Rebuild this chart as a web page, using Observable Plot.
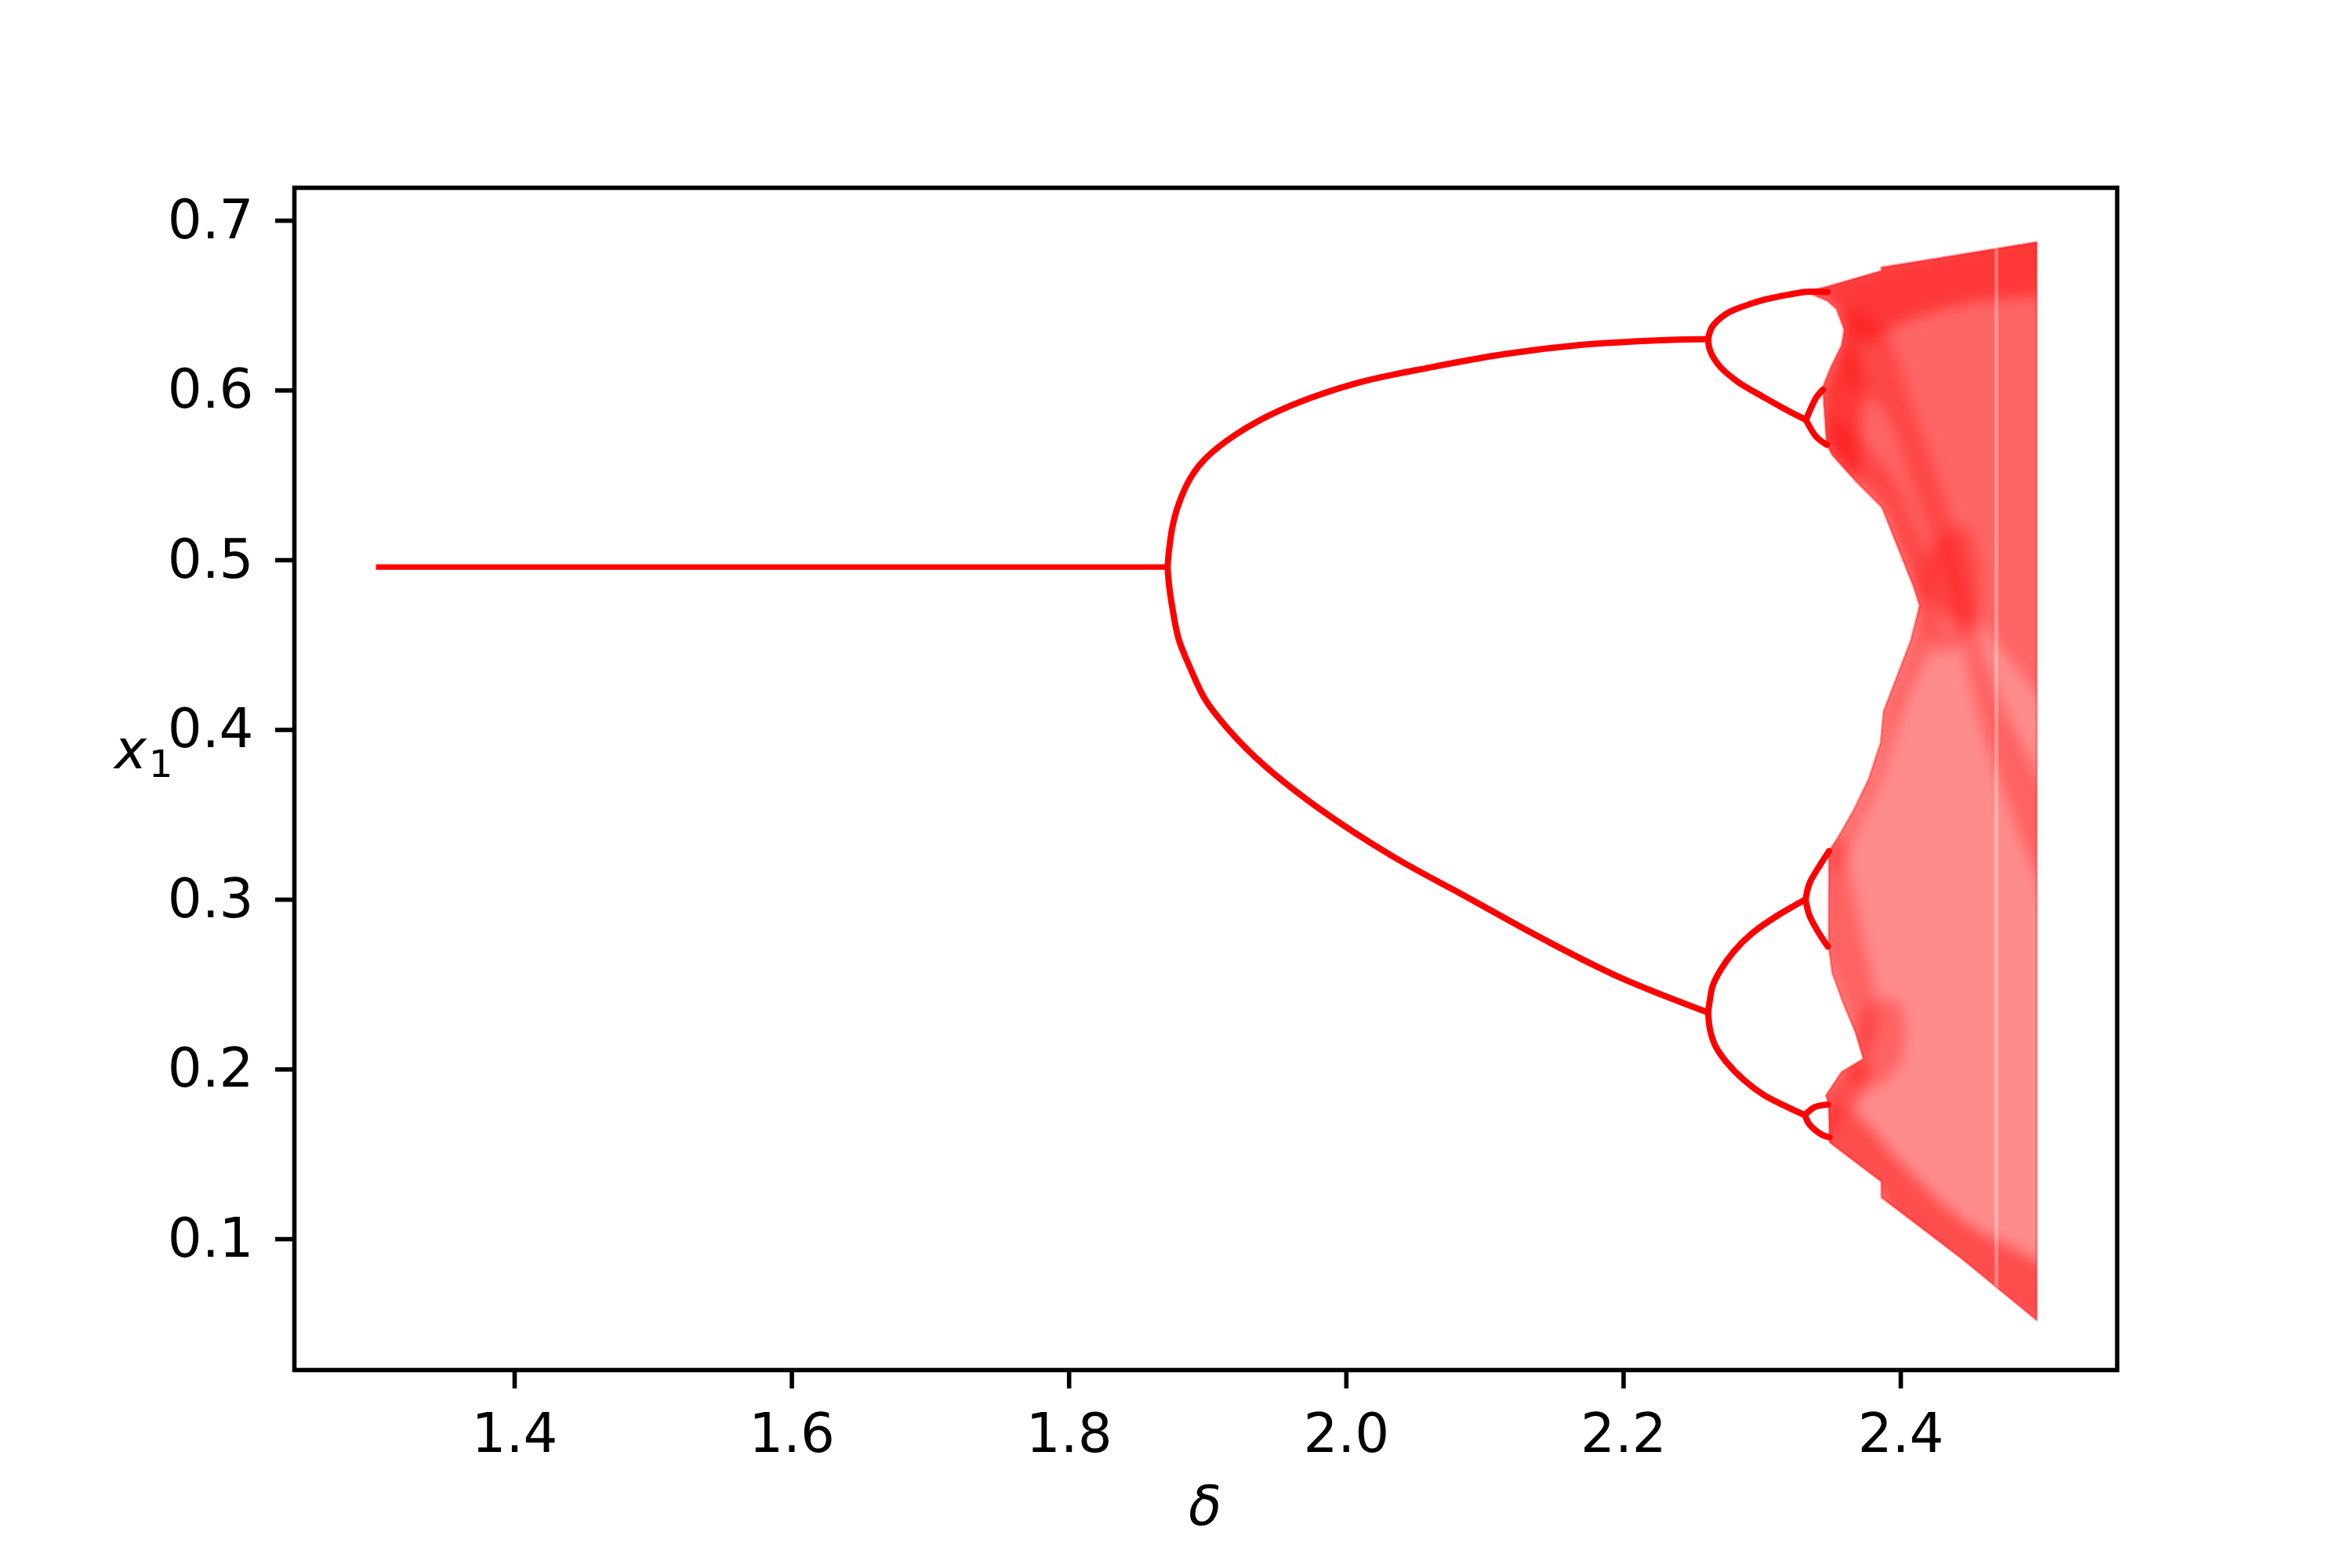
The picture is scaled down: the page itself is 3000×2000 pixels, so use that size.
<!DOCTYPE html>
<html>
<head>
<meta charset="utf-8">
<script src="https://cdn.jsdelivr.net/npm/d3@7"></script>
<script src="https://cdn.jsdelivr.net/npm/@observablehq/plot@0.6"></script>
<style>
  html, body { margin: 0; padding: 0; background: #fff; }
  #chart { width: 3000px; height: 2000px; }
</style>
</head>
<body>
<div id="chart"></div>
<script>
// ---------- tick labels ----------
const xTicks = [1.4, 1.6, 1.8, 2.0, 2.2, 2.4];
const yTicks = [0.1, 0.2, 0.3, 0.4, 0.5, 0.6, 0.7];

// ---------- stable branches ----------
const p1X = [1.300, 1.871];
const p1Y = [0.496, 0.496];

const p2UpperX = [1.871, 1.8722, 1.8746, 1.879, 1.8876, 1.898, 1.920, 1.9524, 2.006, 2.0606, 2.1147, 2.1687, 2.223, 2.261];
const p2UpperY = [0.496, 0.5067, 0.520, 0.533, 0.5485, 0.5596, 0.5739, 0.5884, 0.604, 0.6136, 0.6215, 0.6268, 0.6295, 0.6303];

const p2LowerX = [1.871, 1.8722, 1.8746, 1.879, 1.8876, 1.898, 1.9145, 1.9416, 1.9795, 2.0335, 2.0877, 2.1418, 2.1959, 2.261];
const p2LowerY = [0.496, 0.4845, 0.4714, 0.4536, 0.436, 0.4182, 0.4007, 0.3785, 0.3542, 0.3255, 0.3012, 0.2769, 0.2547, 0.2335];

const p4UUX = [2.261, 2.2638, 2.2738, 2.2866, 2.3018, 2.3203, 2.3316, 2.347];
const p4UUY = [0.6303, 0.6373, 0.645, 0.6496, 0.6535, 0.6566, 0.6581, 0.658];
const p4ULX = [2.261, 2.2624, 2.2694, 2.2826, 2.3016, 2.3203, 2.3316];
const p4ULY = [0.6303, 0.6235, 0.6142, 0.605, 0.5958, 0.5873, 0.5827];
const p4LUX = [2.261, 2.2624, 2.2643, 2.2700, 2.2794, 2.2926, 2.3115, 2.3313];
const p4LUY = [0.2335, 0.2417, 0.2493, 0.2586, 0.2694, 0.2801, 0.2909, 0.3001];
const p4LLX = [2.261, 2.2624, 2.2662, 2.2738, 2.2866, 2.3016, 2.3203, 2.3308];
const p4LLY = [0.2335, 0.2232, 0.2139, 0.2047, 0.1939, 0.1847, 0.1770, 0.1731];

const p8a1X = [2.3316, 2.339, 2.3437]; const p8a1Y = [0.5827, 0.5958, 0.6004];
const p8a2X = [2.3316, 2.339, 2.3466]; const p8a2Y = [0.5827, 0.5727, 0.568];
const p8b1X = [2.3313, 2.334, 2.3416, 2.3482]; const p8b1Y = [0.3001, 0.3094, 0.3202, 0.3286];
const p8b2X = [2.3313, 2.334, 2.3399, 2.3473]; const p8b2Y = [0.3001, 0.2909, 0.2817, 0.2724];
const p8c1X = [2.3308, 2.3378, 2.3473]; const p8c1Y = [0.1731, 0.1778, 0.1793];
const p8c2X = [2.3308, 2.334, 2.343, 2.3485]; const p8c2Y = [0.1731, 0.1677, 0.1616, 0.1600];

// ---------- chaotic region outline and density bands ----------
const chaosX = [2.3316, 2.347, 2.386, 2.386, 2.423, 2.498, 2.498, 2.443, 2.386, 2.386, 2.3487, 2.3485, 2.348, 2.346, 2.3573, 2.373, 2.3674, 2.358, 2.3505, 2.348, 2.3482, 2.355, 2.3659, 2.3768, 2.3855, 2.3876, 2.3963, 2.4072, 2.4136, 2.409, 2.4015, 2.3864, 2.3675, 2.3506, 2.3466, 2.3437, 2.3498, 2.3573, 2.3592, 2.3535, 2.347];
const chaosY = [0.6581, 0.6612, 0.6704, 0.6725, 0.6774, 0.6874, 0.0523, 0.0892, 0.1246, 0.1339, 0.157, 0.160, 0.1793, 0.1847, 0.1985, 0.2062, 0.2216, 0.2401, 0.2571, 0.2724, 0.3286, 0.3371, 0.3526, 0.371, 0.3925, 0.411, 0.4295, 0.4526, 0.4733, 0.4849, 0.5003, 0.5311, 0.5465, 0.5619, 0.568, 0.602, 0.6142, 0.6266, 0.6358, 0.6481, 0.6528];

const upperX = [2.3316, 2.347, 2.386, 2.386, 2.423, 2.52, 2.52, 2.46, 2.4136, 2.409, 2.4015, 2.3864, 2.3675, 2.3506, 2.3466, 2.3437, 2.3498, 2.3573, 2.3592, 2.3535, 2.347];
const upperY = [0.6581, 0.6612, 0.6704, 0.6725, 0.6774, 0.70, 0.40, 0.46, 0.4733, 0.4849, 0.5003, 0.5311, 0.5465, 0.5619, 0.568, 0.602, 0.6142, 0.6266, 0.6358, 0.6481, 0.6528];

const topBandX = [2.32, 2.347, 2.386, 2.386, 2.423, 2.52, 2.52, 2.45, 2.40, 2.375, 2.3592, 2.3535, 2.347];
const topBandY = [0.665, 0.668, 0.678, 0.68, 0.685, 0.70, 0.662, 0.652, 0.640, 0.628, 0.6358, 0.6481, 0.6528];

const diagX = [2.362, 2.386, 2.41, 2.435, 2.465, 2.52, 2.52, 2.465, 2.435, 2.41, 2.386, 2.362];
const diagY = [0.647, 0.637, 0.587, 0.527, 0.432, 0.33, 0.28, 0.385, 0.48, 0.54, 0.59, 0.603];

const waistX = [2.4136, 2.425, 2.447, 2.455, 2.43];
const waistY = [0.4733, 0.51, 0.52, 0.465, 0.445];

const upperEdgeX = [2.3466, 2.3506, 2.3675, 2.3864, 2.4015, 2.409, 2.4136, 2.425, 2.41, 2.395, 2.378, 2.36, 2.35];
const upperEdgeY = [0.568, 0.5619, 0.5465, 0.5311, 0.5003, 0.4849, 0.4733, 0.49, 0.52, 0.548, 0.565, 0.58, 0.585];
const lowerEdgeX = [2.3482, 2.355, 2.3659, 2.3768, 2.3855, 2.3876, 2.3963, 2.4072, 2.4136, 2.425, 2.405, 2.395, 2.385, 2.37, 2.36, 2.35];
const lowerEdgeY = [0.3286, 0.3371, 0.3526, 0.371, 0.3925, 0.411, 0.4295, 0.4526, 0.4733, 0.46, 0.42, 0.395, 0.37, 0.345, 0.325, 0.315];

const bottomBandX = [2.34, 2.386, 2.386, 2.443, 2.52, 2.52, 2.443, 2.40, 2.375, 2.36, 2.34];
const bottomBandY = [0.15, 0.127, 0.118, 0.082, 0.04, 0.072, 0.112, 0.145, 0.168, 0.178, 0.165];

const fanLLX = [2.34, 2.36, 2.375, 2.373, 2.3573, 2.34];
const fanLLY = [0.160, 0.175, 0.19, 0.2062, 0.1985, 0.18];
const fanLUX = [2.345, 2.3505, 2.358, 2.3674, 2.373, 2.383, 2.372, 2.36, 2.355, 2.345];
const fanLUY = [0.2724, 0.2571, 0.2401, 0.2216, 0.2062, 0.23, 0.28, 0.325, 0.3371, 0.33];
const fanUX = [2.343, 2.3498, 2.3573, 2.3592, 2.372, 2.37, 2.3675, 2.3506, 2.343];
const fanUY = [0.602, 0.6142, 0.6266, 0.6358, 0.61, 0.57, 0.5465, 0.5619, 0.568];
const lowDenseX = [2.36, 2.38, 2.40, 2.398, 2.378];
const lowDenseY = [0.20, 0.19, 0.205, 0.24, 0.238];

// light vertical stripe (periodic window) in the chaotic region
const stripeX = [2.469];
const stripeY1 = [0.058];
const stripeY2 = [0.684];

// ---------- build tables ----------
function rows(id, xs, ys) { return xs.map((x, i) => ({id, x, y: ys[i]})); }

const branches = [].concat(
  rows("p2u", p2UpperX, p2UpperY),
  rows("p2l", p2LowerX, p2LowerY),
  rows("p4uu", p4UUX, p4UUY),
  rows("p4ul", p4ULX, p4ULY),
  rows("p4lu", p4LUX, p4LUY),
  rows("p4ll", p4LLX, p4LLY),
  rows("p8a1", p8a1X, p8a1Y), rows("p8a2", p8a2X, p8a2Y),
  rows("p8b1", p8b1X, p8b1Y), rows("p8b2", p8b2X, p8b2Y),
  rows("p8c1", p8c1X, p8c1Y), rows("p8c2", p8c2X, p8c2Y)
);
const fixedPoint = rows("p1", p1X, p1Y);

const chaos = rows("chaos", chaosX, chaosY);
const upper = rows("upper", upperX, upperY);
const dense = [].concat(
  rows("top", topBandX, topBandY),
  rows("bottom", bottomBandX, bottomBandY),
  rows("fanLL", fanLLX, fanLLY),
  rows("fanU", fanUX, fanUY)
);
const medium = [].concat(
  rows("diag", diagX, diagY),
  rows("waist", waistX, waistY),
  rows("fanLU", fanLUX, fanLUY),
  rows("upperEdge", upperEdgeX, upperEdgeY),
  rows("lowerEdge", lowerEdgeX, lowerEdgeY),
  rows("lowDense", lowDenseX, lowDenseY)
);
const stripes = stripeX.map((x, i) => ({x, y1: stripeY1[i], y2: stripeY2[i]}));

const RED = "#ff0000";
const CHAOS_RED = "#fe0000";   // tag colours (visually identical) used to find the groups afterwards
const OVER_RED = "#fd0000";
const STRIPE = "#fffffe";
const fmt = d3.format(".1f");

const plot = Plot.plot({
  width: 3000,
  height: 2000,
  marginLeft: 375,
  marginRight: 300,
  marginTop: 239,
  marginBottom: 253,
  style: {fontFamily: "DejaVu Sans", fontSize: "69px", background: "#ffffff", color: "#000000"},
  x: {domain: [1.2411, 2.5561], label: null},
  y: {domain: [0.0229, 0.7194], label: null},
  marks: [
    Plot.line(chaos, {x: "x", y: "y", z: "id", curve: "linear-closed", fill: CHAOS_RED, fillOpacity: 0.45, stroke: CHAOS_RED, strokeOpacity: 0.35, strokeWidth: 3}),
    Plot.line(upper, {x: "x", y: "y", z: "id", curve: "linear-closed", fill: OVER_RED, fillOpacity: 0.28, stroke: "none"}),
    Plot.line(medium, {x: "x", y: "y", z: "id", curve: "catmull-rom-closed", fill: OVER_RED, fillOpacity: 0.3, stroke: "none"}),
    Plot.line(dense, {x: "x", y: "y", z: "id", curve: "catmull-rom-closed", fill: OVER_RED, fillOpacity: 0.45, stroke: "none"}),
    Plot.ruleX(stripes, {x: "x", y1: "y1", y2: "y2", stroke: STRIPE, strokeOpacity: 0.3, strokeWidth: 5}),
    Plot.line(fixedPoint, {x: "x", y: "y", z: "id", stroke: RED, strokeWidth: 7, strokeLinecap: "butt"}),
    Plot.line(branches, {x: "x", y: "y", z: "id", curve: "catmull-rom", stroke: RED, strokeWidth: 8, strokeLinecap: "round"}),
    Plot.frame({stroke: "#000000", strokeWidth: 5.6}),
    Plot.axisX(xTicks, {tickFormat: fmt, tickSize: 24, tickPadding: 31, fontSize: 69, strokeWidth: 5.6, label: null}),
    Plot.axisY(yTicks, {tickFormat: fmt, tickSize: 24, tickPadding: 28, fontSize: 69, strokeWidth: 5.6, label: null})
  ]
});

const svg = d3.select(plot);

// soften the density overlays and keep them inside the chaotic region
try {
  const chaosPath = svg.selectAll("g").filter(function () { return this.getAttribute("fill") === CHAOS_RED; }).select("path");
  if (!chaosPath.empty() && chaosPath.attr("d")) {
    const defs = svg.insert("defs", ":first-child");
    defs.append("filter").attr("id", "soft")
      .attr("x", "-10%").attr("y", "-10%").attr("width", "120%").attr("height", "120%")
      .append("feGaussianBlur").attr("stdDeviation", 9);
    defs.append("clipPath").attr("id", "chaosClip")
      .append("path").attr("d", chaosPath.attr("d"));
    svg.selectAll("g").filter(function () { return this.getAttribute("fill") === OVER_RED; })
      .attr("filter", "url(#soft)")
      .attr("clip-path", "url(#chaosClip)");
    svg.selectAll("g").filter(function () { return this.getAttribute("stroke") === STRIPE; })
      .attr("clip-path", "url(#chaosClip)");
  }
} catch (e) { console.error(e); }

// axis labels (matplotlib mathtext style: italic symbols, upright subscript)
const ylab = svg.append("text")
  .attr("x", 146).attr("y", 980)
  .attr("text-anchor", "start")
  .attr("font-family", "DejaVu Sans").attr("font-size", 69).attr("fill", "#000");
ylab.append("tspan").attr("font-style", "italic").text("x");
ylab.append("tspan").attr("font-size", 48.3).attr("dy", 11).attr("dx", 3).text("1");

svg.append("text")
  .attr("x", 1537).attr("y", 1945)
  .attr("text-anchor", "middle")
  .attr("font-family", "DejaVu Sans").attr("font-size", 69)
  .attr("font-style", "italic").attr("fill", "#000")
  .text("δ");

document.getElementById("chart").appendChild(plot);
</script>
</body>
</html>
